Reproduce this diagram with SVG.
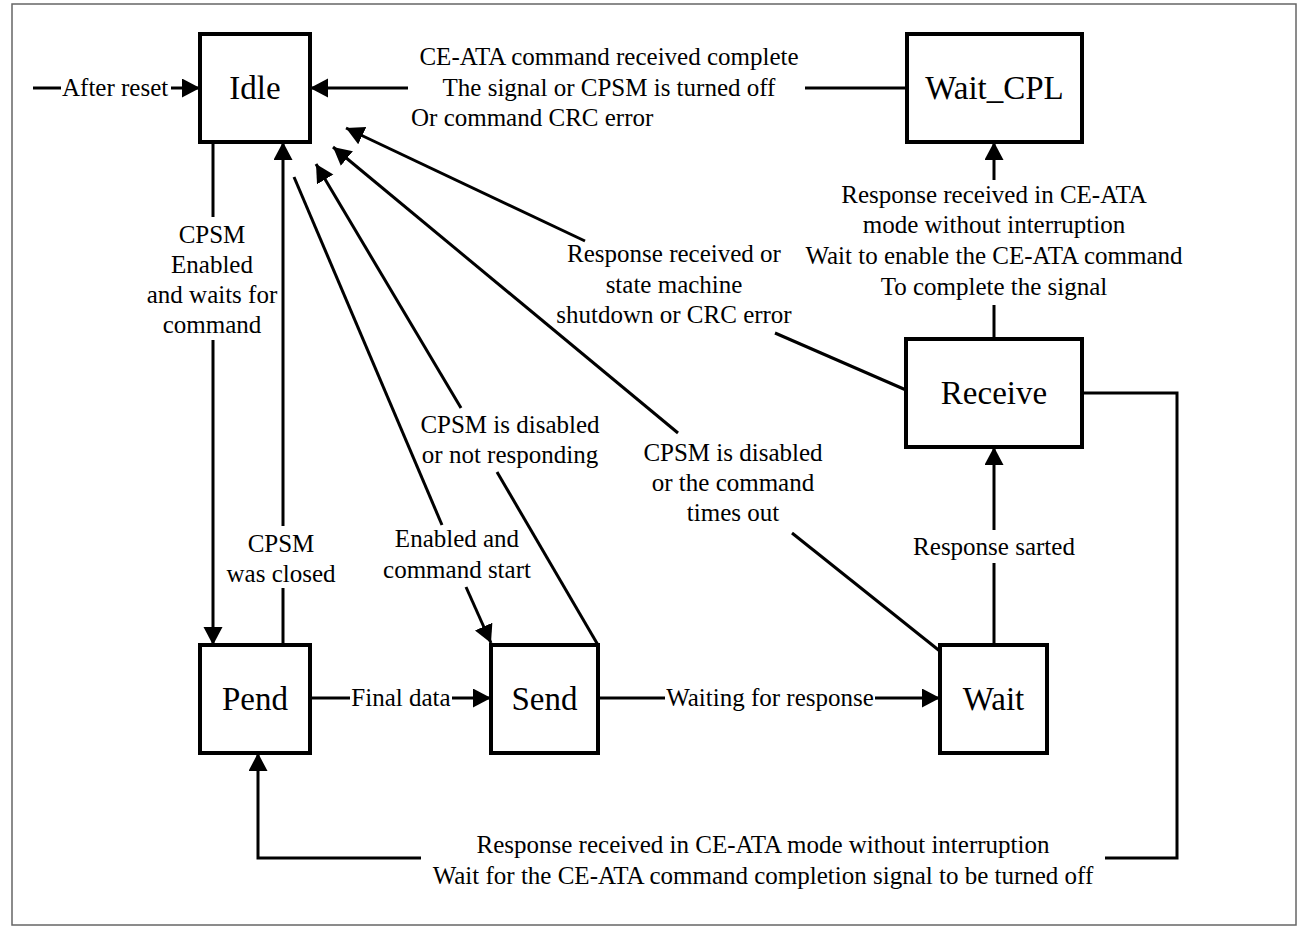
<svg xmlns="http://www.w3.org/2000/svg" width="1298" height="929" viewBox="0 0 1298 929">
<style>
.frame{fill:#fff;stroke:#666;stroke-width:1.5}
.node rect{fill:#fff;stroke:#000;stroke-width:4}
.node text{font-family:"Liberation Serif","Times New Roman",serif;font-size:33px;fill:#000;text-anchor:middle}
.edges path,.edges line{fill:none;stroke:#000;stroke-width:3}
.lbl{font-family:"Liberation Serif","Times New Roman",serif;font-size:25px;fill:#000;text-anchor:middle}
.lbl.start{text-anchor:start}
</style>
<defs>
<marker id="arr" markerUnits="userSpaceOnUse" markerWidth="20" markerHeight="20" refX="18" refY="9.5" orient="auto">
<path d="M0,0 L18,9.5 L0,19 Z" fill="#000"/>
</marker>
</defs>
<rect class="frame" x="12" y="4" width="1284" height="921"/>
<g id="node-idle" class="node"><rect x="200" y="34" width="110" height="108"/><text x="255" y="99">Idle</text></g>
<g id="node-waitcpl" class="node"><rect x="907" y="34" width="175" height="108"/><text x="994.5" y="99">Wait_CPL</text></g>
<g id="node-receive" class="node"><rect x="906" y="339" width="176" height="108"/><text x="994" y="404">Receive</text></g>
<g id="node-pend" class="node"><rect x="200" y="645" width="110" height="108"/><text x="255" y="710">Pend</text></g>
<g id="node-send" class="node"><rect x="491" y="645" width="107" height="108"/><text x="544.5" y="710">Send</text></g>
<g id="node-wait" class="node"><rect x="940" y="645" width="107" height="108"/><text x="993.5" y="710">Wait</text></g>
<g id="edges" class="edges">
<line x1="33" y1="88" x2="61" y2="88"/>
<line x1="171" y1="88" x2="200" y2="88" marker-end="url(#arr)"/>
<line x1="907" y1="88" x2="805" y2="88"/>
<line x1="408" y1="88" x2="310" y2="88" marker-end="url(#arr)"/>
<line x1="213" y1="142" x2="213" y2="217"/>
<line x1="213" y1="340" x2="213" y2="645" marker-end="url(#arr)"/>
<line x1="283" y1="645" x2="283" y2="588"/>
<line x1="283" y1="526" x2="283" y2="142" marker-end="url(#arr)"/>
<line x1="294" y1="177" x2="442" y2="525"/>
<line x1="466" y1="587" x2="491" y2="643" marker-end="url(#arr)"/>
<line x1="598" y1="645" x2="497" y2="472"/>
<line x1="461" y1="408" x2="316" y2="164" marker-end="url(#arr)"/>
<line x1="941" y1="652" x2="792" y2="533"/>
<line x1="678" y1="433" x2="333" y2="147" marker-end="url(#arr)"/>
<line x1="906" y1="390" x2="775" y2="333"/>
<line x1="585" y1="241" x2="346" y2="128" marker-end="url(#arr)"/>
<line x1="994" y1="645" x2="994" y2="563"/>
<line x1="994" y1="530" x2="994" y2="447" marker-end="url(#arr)"/>
<line x1="994" y1="339" x2="994" y2="305"/>
<line x1="994" y1="180" x2="994" y2="142" marker-end="url(#arr)"/>
<line x1="310" y1="698" x2="350" y2="698"/>
<line x1="452" y1="698" x2="491" y2="698" marker-end="url(#arr)"/>
<line x1="598" y1="698" x2="665" y2="698"/>
<line x1="875" y1="698" x2="940" y2="698" marker-end="url(#arr)"/>
<path d="M1082,393 H1177 V858 H1105"/>
<path d="M421,858 H258 V753" marker-end="url(#arr)"/>
</g>
<g id="labels">
<text class="lbl start" x="62" y="96">After reset</text>
<text class="lbl" x="609" y="65">CE-ATA command received complete</text>
<text class="lbl" x="609" y="96">The signal or CPSM is turned off</text>
<text class="lbl start" x="411" y="126">Or command CRC error</text>
<text class="lbl" x="212" y="243">CPSM</text>
<text class="lbl" x="212" y="273">Enabled</text>
<text class="lbl" x="212" y="303">and waits for</text>
<text class="lbl" x="212" y="333">command</text>
<text class="lbl" x="281" y="552">CPSM</text>
<text class="lbl" x="281" y="582">was closed</text>
<text class="lbl" x="457" y="547">Enabled and</text>
<text class="lbl" x="457" y="578">command start</text>
<text class="lbl" x="510" y="433">CPSM is disabled</text>
<text class="lbl" x="510" y="463">or not responding</text>
<text class="lbl" x="733" y="461">CPSM is disabled</text>
<text class="lbl" x="733" y="491">or the command</text>
<text class="lbl" x="733" y="521">times out</text>
<text class="lbl" x="674" y="262">Response received or</text>
<text class="lbl" x="674" y="293">state machine</text>
<text class="lbl" x="674" y="323">shutdown or CRC error</text>
<text class="lbl" x="994" y="555">Response sarted</text>
<text class="lbl" x="994" y="203">Response received in CE-ATA</text>
<text class="lbl" x="994" y="233">mode without interruption</text>
<text class="lbl" x="994" y="264">Wait to enable the CE-ATA command</text>
<text class="lbl" x="994" y="295">To complete the signal</text>
<text class="lbl" x="401" y="706">Final data</text>
<text class="lbl" x="770" y="706">Waiting for response</text>
<text class="lbl" x="763" y="853">Response received in CE-ATA mode without interruption</text>
<text class="lbl" x="763" y="884">Wait for the CE-ATA command completion signal to be turned off</text>
</g>
</svg>
